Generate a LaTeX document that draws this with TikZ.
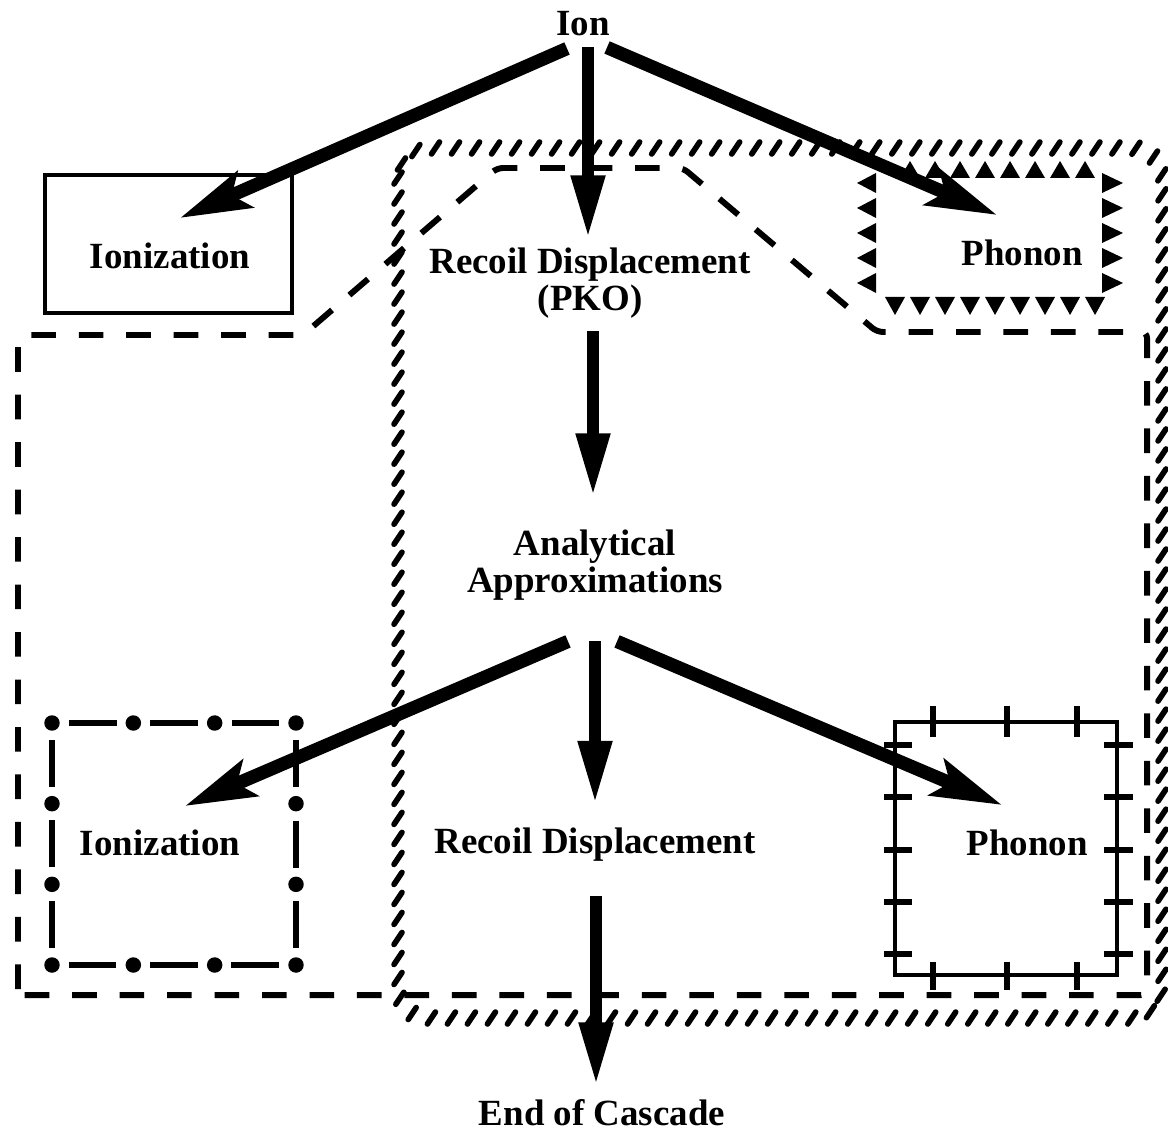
\documentclass[tikz,border=0pt]{standalone}
\usepackage{fontspec}
\setmainfont{Liberation Serif}
\usetikzlibrary{arrows.meta,calc,decorations.markings}

\tikzset{
  label text/.style={font=\fontsize{10.5}{10.5}\selectfont\bfseries, inner sep=1pt, align=center},
  flow/.style={line width=3.4pt, -{Triangle[length=18pt,width=9pt]}},
  branch/.style={line width=3.8pt, -{Stealth[length=20pt,width=11pt,inset=4pt]}},
  rope/.style={decorate, decoration={markings,
    mark=between positions 0 and 1 step 0.2cm with {\pgftransformresetnontranslations
      \draw[line width=1.6pt, line cap=round] (-4,6) -- (4,-6);}}},
  coarse dash/.style={line width=1.7pt, dash pattern=on 7pt off 6.5pt, line join=round},
  tick/.style={line width=1.5pt},
  dashdot/.style={line width=1.5pt},
}

\begin{document}
\begin{tikzpicture}[x=0.01cm, y=-0.01cm]
\useasboundingbox (0,0) rectangle (1168,1134);

% labels
\node [label text] (ion) at (583,24) {Ion};
\node [label text] (ionA) at (170,256) {Ionization};
\node [label text] (pko) at (590,283) {Recoil Displacement\\(PKO)};
\node [label text] (phononA) at (1022,253) {Phonon};
\node [label text] (approx) at (595,565) {Analytical\\Approximations};
\node [label text] (ionB) at (160,843) {Ionization};
\node [label text] (recoil) at (595,845) {Recoil Displacement};
\node [label text] (phononB) at (1027,843) {Phonon};
\node [label text] (end) at (602,1113) {End of Cascade};

% outer frames
\path [rope, rounded corners=0.3cm] (398,148) rectangle (1162,1018);
\draw [coarse dash, rounded corners=0.06cm] (18,995) -- (18,335) -- (303,335) -- (497,168)
  -- (683,168) -- (877,332) -- (1147,332) -- (1147,995) -- cycle;

% first ionization: plain box
\draw [line width=1.2pt] (45,175) rectangle (292,313);

% first phonon: triangles all round
\foreach \x in {910,935,...,1088}
  \fill (\x-10,178) -- (\x+10,178) -- (\x,161) -- cycle;
\foreach \x in {895,920,...,1098}
  \fill (\x-10,297) -- (\x+10,297) -- (\x,315) -- cycle;
\foreach \y in {183,208,...,283} {
  \fill (876,\y-10) -- (876,\y+10) -- (857,\y) -- cycle;
  \fill (1102,\y-10) -- (1102,\y+10) -- (1123,\y) -- cycle;
}

% second ionization: dash and dot
\coordinate (d1) at (52,723);
\coordinate (d2) at (296,723);
\coordinate (d3) at (296,965);
\coordinate (d4) at (52,965);
\foreach \a/\b in {d1/d2,d2/d3,d3/d4,d4/d1} {
  \foreach \t in {0,0.3333,0.6667} {
    \fill ($(\a)!\t!(\b)$) circle (2.2pt);
    \draw [dashdot] ($(\a)!{\t+0.07}!(\b)$) -- ($(\a)!{\t+0.265}!(\b)$);
  }
}

% second phonon: box with cross ticks
\draw [line width=1.2pt] (895,722) rectangle (1117,975);
\foreach \x in {933,1007,1077} {
  \draw [tick] (\x,706) -- (\x,737);
  \draw [tick] (\x,962) -- (\x,990);
}
\foreach \y in {745,797,850,902,954} {
  \draw [tick] (884,\y) -- (912,\y);
  \draw [tick] (1104,\y) -- (1133,\y);
}

% arrow ends inside the boxes
\coordinate (ionA in) at (180,218);
\coordinate (phononA in) at (997,215);
\coordinate (ionB in) at (185,806);
\coordinate (phononB in) at (1002,805);

\draw [branch] ($(ion.south)+(-16,8)$) -- (ionA in);
\draw [flow] ($(ion.south)+(5,7)$) -- ($(pko.north)+(-2,-5)$);
\draw [branch] ($(ion.south)+(24,7)$) -- (phononA in);
\draw [flow] ($(pko.south)+(3,9)$) -- ($(approx.north)+(-2,-29)$);
\draw [branch] ($(approx.south)+(-27,37)$) -- (ionB in);
\draw [flow] ($(approx.south)+(0,37)$) -- ($(recoil.north)+(0,-20)$);
\draw [branch] ($(approx.south)+(22,37)$) -- (phononB in);
\draw [flow] ($(recoil.south)+(1,30)$) -- ($(end.north)+(-6,-10)$);
\end{tikzpicture}
\end{document}
